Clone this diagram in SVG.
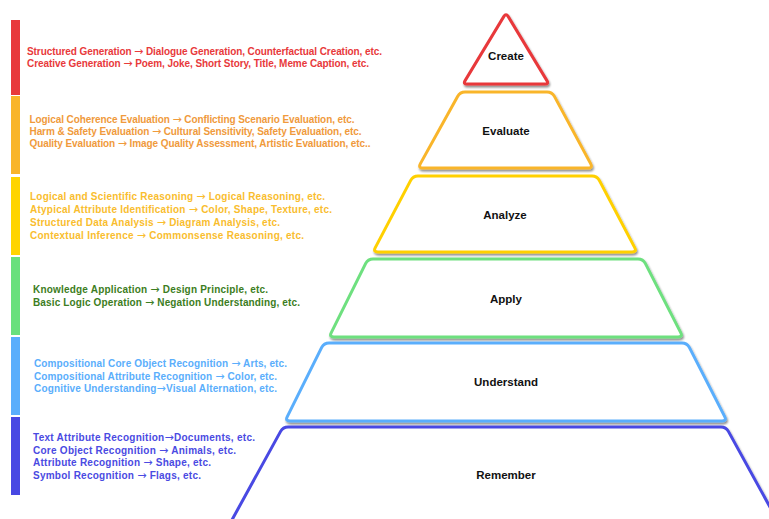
<svg xmlns="http://www.w3.org/2000/svg" width="769" height="519" viewBox="0 0 769 519">
<defs>
<filter id="sh" x="-10%" y="-10%" width="120%" height="130%">
<feDropShadow dx="1" dy="2" stdDeviation="1.2" flood-color="#000" flood-opacity="0.45"/>
</filter>
<style>
.tier{fill:#fff;stroke-width:3;stroke-linejoin:round;filter:url(#sh)}
.lbl{font-family:"Liberation Sans",Arial,sans-serif;font-weight:bold;font-size:11.5px;fill:#111;text-anchor:middle}
.desc{font-family:"Liberation Sans",Arial,sans-serif;font-weight:bold;font-size:10px}
.ar{font-family:"DejaVu Sans",sans-serif;font-weight:normal;font-size:11px}
.red{fill:#e8393b}.org{fill:#f09a3c}.yel{fill:#f9bd2e}.grn{fill:#3c7d22}.blu{fill:#5aaefc}.pur{fill:#4a4ae2}
</style>
</defs>
<rect width="769" height="519" fill="#fff"/>
<g id="bars">
<rect x="11" y="20" width="9" height="75" fill="#e8393b"/>
<rect x="11" y="96" width="9" height="78" fill="#f9b52a"/>
<rect x="11" y="177" width="9" height="78" fill="#ffd400"/>
<rect x="11" y="257" width="9" height="78" fill="#69e07d"/>
<rect x="11" y="337" width="9" height="78" fill="#5aaefc"/>
<rect x="11" y="417" width="9" height="78" fill="#4848e3"/>
</g>
<g id="desc-create" class="desc red">
<text x="27" y="55" textLength="355" lengthAdjust="spacing">Structured Generation <tspan class="ar">→</tspan> Dialogue Generation, Counterfactual Creation, etc.</text>
<text x="27" y="67" textLength="342" lengthAdjust="spacing">Creative Generation <tspan class="ar">→</tspan> Poem, Joke, Short Story, Title, Meme Caption, etc.</text>
</g>
<g id="desc-evaluate" class="desc org">
<text x="29.5" y="122.5" textLength="325" lengthAdjust="spacing">Logical Coherence Evaluation <tspan class="ar">→</tspan> Conflicting Scenario Evaluation, etc.</text>
<text x="29.5" y="134.5" textLength="332" lengthAdjust="spacing">Harm &amp; Safety Evaluation <tspan class="ar">→</tspan> Cultural Sensitivity, Safety Evaluation, etc.</text>
<text x="29.5" y="146.5" textLength="341" lengthAdjust="spacing">Quality Evaluation <tspan class="ar">→</tspan> Image Quality Assessment, Artistic Evaluation, etc..</text>
</g>
<g id="desc-analyze" class="desc yel">
<text x="30" y="200" textLength="295" lengthAdjust="spacing">Logical and Scientific Reasoning <tspan class="ar">→</tspan> Logical Reasoning, etc.</text>
<text x="30" y="213" textLength="302" lengthAdjust="spacing">Atypical Attribute Identification <tspan class="ar">→</tspan>  Color, Shape, Texture, etc.</text>
<text x="30" y="226" textLength="250" lengthAdjust="spacing">Structured Data Analysis <tspan class="ar">→</tspan> Diagram Analysis, etc.</text>
<text x="30" y="238.5" textLength="274" lengthAdjust="spacing">Contextual Inference <tspan class="ar">→</tspan> Commonsense Reasoning, etc.</text>
</g>
<g id="desc-apply" class="desc grn">
<text x="33" y="293" textLength="235" lengthAdjust="spacing">Knowledge Application <tspan class="ar">→</tspan> Design Principle, etc.</text>
<text x="33" y="306" textLength="267" lengthAdjust="spacing">Basic Logic Operation <tspan class="ar">→</tspan> Negation Understanding, etc.</text>
</g>
<g id="desc-understand" class="desc blu">
<text x="34" y="367" textLength="253" lengthAdjust="spacing">Compositional Core Object Recognition <tspan class="ar">→</tspan> Arts, etc.</text>
<text x="34" y="379.5" textLength="243" lengthAdjust="spacing">Compositional Attribute Recognition <tspan class="ar">→</tspan> Color, etc.</text>
<text x="34" y="392" textLength="243" lengthAdjust="spacing">Cognitive Understanding<tspan class="ar">→</tspan>Visual Alternation, etc.</text>
</g>
<g id="desc-remember" class="desc pur">
<text x="33" y="441" textLength="222" lengthAdjust="spacing">Text Attribute Recognition<tspan class="ar">→</tspan>Documents, etc.</text>
<text x="33" y="453.5" textLength="203" lengthAdjust="spacing">Core Object Recognition <tspan class="ar">→</tspan> Animals, etc.</text>
<text x="33" y="466" textLength="178" lengthAdjust="spacing">Attribute Recognition <tspan class="ar">→</tspan> Shape, etc.</text>
<text x="33" y="479" textLength="168" lengthAdjust="spacing">Symbol Recognition <tspan class="ar">→</tspan> Flags, etc.</text>
</g>
<g id="create">
<path class="tier" stroke="#e8393b" d="M503.9,16.4 Q506,13 508.1,16.4 L546.9,80.6 Q549,84 545,84 L467,84 Q463,84 465.1,80.6 Z"/>
<text class="lbl" x="506" y="60">Create</text>
</g>
<g id="evaluate">
<path class="tier" stroke="#f9b52a" d="M465,92 L547,92 Q552,92 554.4,96.4 L590.6,163.6 Q593,168 588,168 L423,168 Q418,168 420.4,163.6 L457.6,96.4 Q460,92 465,92 Z"/>
<text class="lbl" x="506" y="135">Evaluate</text>
</g>
<g id="analyze">
<path class="tier" stroke="#ffd000" d="M418,176 L592,176 Q597,176 599.3,180.4 L634.7,247.6 Q637,252 632,252 L378,252 Q373,252 375.3,247.6 L410.7,180.4 Q413,176 418,176 Z"/>
<text class="lbl" x="505" y="219">Analyze</text>
</g>
<g id="apply">
<path class="tier" stroke="#6ee07f" d="M373,259 L638,259 Q643,259 645.3,263.4 L680.7,332.6 Q683,337 678,337 L334,337 Q329,337 331.3,332.6 L365.7,263.4 Q368,259 373,259 Z"/>
<text class="lbl" x="506" y="303">Apply</text>
</g>
<g id="understand">
<path class="tier" stroke="#5aaefc" d="M329,343 L682,343 Q687,343 689.3,347.4 L724.7,416.6 Q727,421 722,421 L290,421 Q285,421 287.3,416.6 L321.7,347.4 Q324,343 329,343 Z"/>
<text class="lbl" x="506" y="386">Understand</text>
</g>
<g id="remember">
<path class="tier" stroke="#4848e3" d="M288,427 L721,427 Q726,427 728.4,431.4 L821,600 L188,600 L280.6,431.4 Q283,427 288,427 Z"/>
<text class="lbl" x="506" y="479">Remember</text>
</g>
</svg>
